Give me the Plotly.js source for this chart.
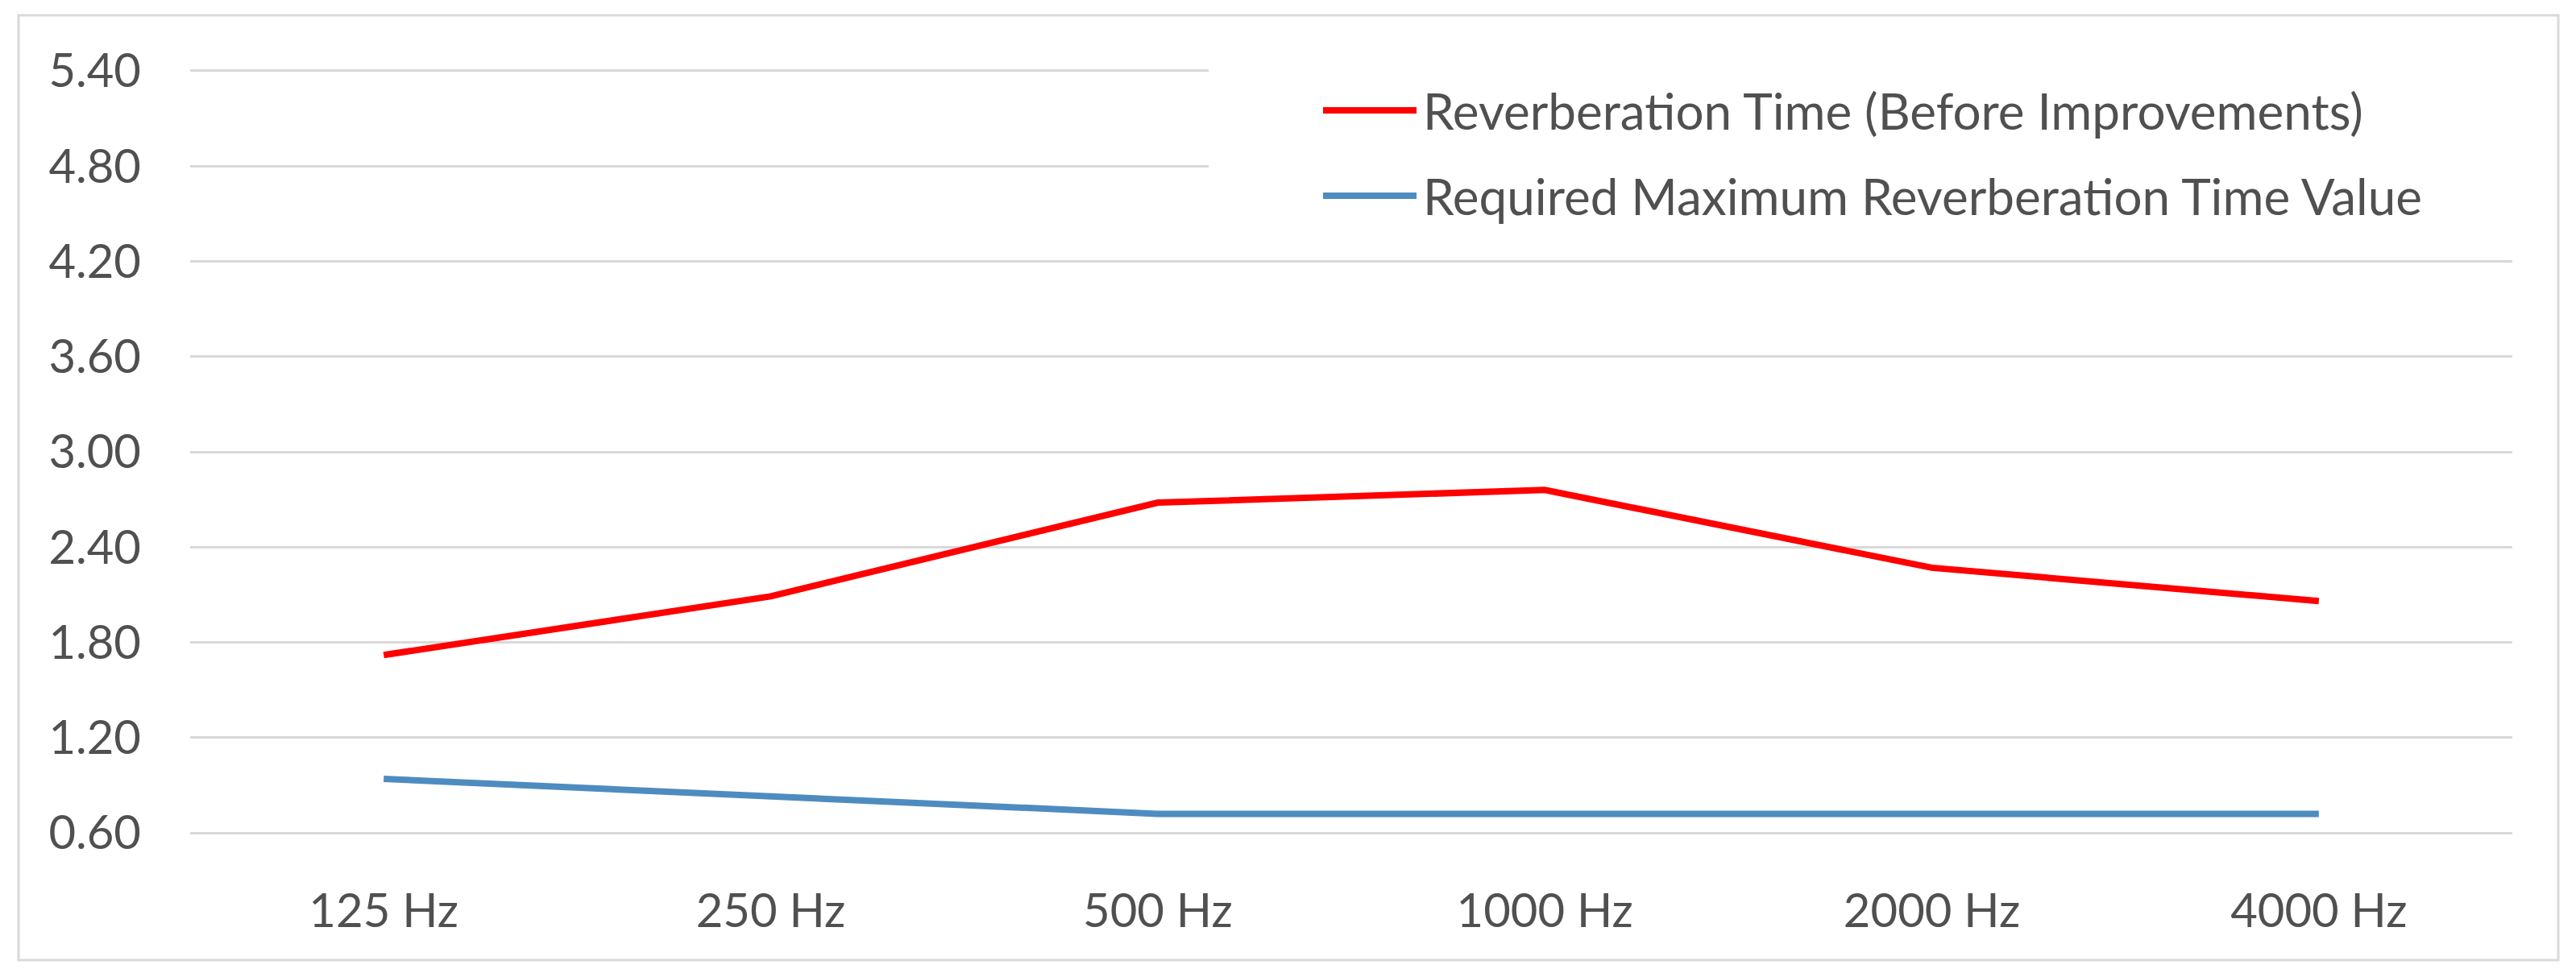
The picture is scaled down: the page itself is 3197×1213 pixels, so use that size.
<!DOCTYPE html>
<html>
<head>
<meta charset="utf-8">
<script src="https://cdn.plot.ly/plotly-3.0.1.min.js"></script>
<style>html,body{margin:0;padding:0;background:#fff;}#chart{width:3197px;height:1213px;}</style>
</head>
<body>
<div id="chart"></div>
<script>
const categories = ['125 Hz', '250 Hz', '500 Hz', '1000 Hz', '2000 Hz', '4000 Hz'];
const beforeImprovements = [1.72, 2.09, 2.68, 2.76, 2.27, 2.06];
const requiredMaximum = [0.94, 0.83, 0.72, 0.72, 0.72, 0.72];
const yTickValues = [0.6, 1.2, 1.8, 2.4, 3.0, 3.6, 4.2, 4.8, 5.4];
const yTickLabels = ['0.60', '1.20', '1.80', '2.40', '3.00', '3.60', '4.20', '4.80', '5.40'];
const seriesNames = ['Reverberation Time (Before Improvements)', 'Required Maximum Reverberation Time Value'];
const seriesColors = ['#FF0000', '#4E8CC0'];

const W = 3197, H = 1213;
const L = 236, R = 79, T = 84, B = 175;
const pw = W - L - R, ph = H - T - B;
const px = v => (v - L) / pw;
const py = v => (H - B - v) / ph;

const FONT = 'Lato, "Open Sans", sans-serif';
const TXT = '#505050';

const traces = [
  {x: categories, y: beforeImprovements, name: seriesNames[0], type: 'scatter', mode: 'lines',
   line: {color: seriesColors[0], width: 8}, showlegend: false},
  {x: categories, y: requiredMaximum, name: seriesNames[1], type: 'scatter', mode: 'lines',
   line: {color: seriesColors[1], width: 8}, showlegend: false}
];

const legendRows = [137, 243];
const shapes = [
  {type: 'rect', xref: 'paper', yref: 'paper', x0: px(23), x1: px(3175), y0: py(1192), y1: py(19),
   line: {color: '#D9D9D9', width: 3}, fillcolor: 'rgba(0,0,0,0)', layer: 'below'},
  {type: 'rect', xref: 'paper', yref: 'paper', x0: px(1500), x1: px(3125), y0: py(290), y1: py(45),
   line: {width: 0}, fillcolor: '#FFFFFF', layer: 'above'}
];
const annotations = [];
seriesNames.forEach((n, i) => {
  shapes.push({type: 'line', xref: 'paper', yref: 'paper', x0: px(1642), x1: px(1758),
    y0: py(legendRows[i]), y1: py(legendRows[i]), line: {color: seriesColors[i], width: 8}, layer: 'above'});
  annotations.push({xref: 'paper', yref: 'paper', x: px(1764), y: py(legendRows[i]), xanchor: 'left', yanchor: 'middle',
    text: n, showarrow: false, font: {family: FONT, size: 62, color: TXT}});
});

const layout = {
  width: W, height: H,
  margin: {l: L, r: R, t: T, b: B, pad: 0},
  paper_bgcolor: '#FFFFFF', plot_bgcolor: '#FFFFFF',
  font: {family: FONT, size: 58, color: TXT},
  showlegend: false,
  xaxis: {type: 'category', range: [-0.5, 5.5], showgrid: false, zeroline: false, showline: false,
    ticks: '', ticklabelstandoff: 54, tickfont: {family: FONT, size: 58, color: TXT}, fixedrange: true},
  yaxis: {range: [0.58, 5.42], tickvals: yTickValues, ticktext: yTickLabels, showgrid: true,
    gridcolor: '#D9D9D9', gridwidth: 3, zeroline: false, showline: false, ticks: '',
    ticklabelstandoff: 60, tickfont: {family: FONT, size: 58, color: TXT}, fixedrange: true},
  shapes: shapes,
  annotations: annotations
};

Plotly.newPlot('chart', traces, layout, {staticPlot: true, displayModeBar: false});
</script>
</body>
</html>
